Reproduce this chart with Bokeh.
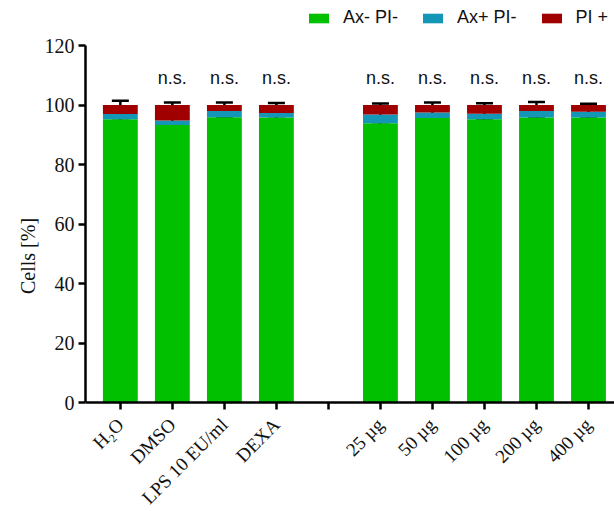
import math
from bokeh.plotting import figure
from bokeh.models import (ColumnDataSource, Whisker, TeeHead, Legend, LegendItem,
                          FixedTicker, Range1d)
from bokeh.core.properties import value
from bokeh.embed import file_html
from bokeh.resources import INLINE

# ---- data ----
categories = ["H₂O", "DMSO", "LPS 10 EU/ml", "DEXA",
              "25 µg", "50 µg", "100 µg", "200 µg", "400 µg"]
positions = [0, 1, 2, 3, 5, 6, 7, 8, 9]
ax_neg_pi_neg = [95.2, 93.3, 95.9, 95.8, 93.9, 95.6, 95.2, 95.8, 95.8]
ax_pos_pi_neg = [1.8, 1.5, 2.1, 1.5, 2.9, 1.9, 1.9, 2.2, 1.9]
pi_pos = [3.0, 5.2, 2.0, 2.7, 3.2, 2.5, 2.9, 2.0, 2.3]
sd_ax_neg = [0.5, 0.5, 0.4, 0.5, 0.5, 0.4, 0.4, 0.4, 0.4]
sd_ax_pos = [0.7, 1.0, 1.0, 0.8, 1.5, 1.5, 0.8, 1.3, 0.9]
sd_pi_pos = [1.4, 0.8, 0.8, 0.7, 0.5, 0.8, 0.6, 1.0, 0.4]
significance = ["", "n.s.", "n.s.", "n.s.", "n.s.", "n.s.", "n.s.", "n.s.", "n.s."]
series_names = ["Ax- PI-", "Ax+ PI-", "PI +"]
colors = ["#00C000", "#1497B6", "#A00000"]
yticks = [0, 20, 40, 60, 80, 100, 120]
y_axis_max = 120

g_top = list(ax_neg_pi_neg)
t_top = [a + b for a, b in zip(ax_neg_pi_neg, ax_pos_pi_neg)]
r_top = [a + b + c for a, b, c in zip(ax_neg_pi_neg, ax_pos_pi_neg, pi_pos)]

src = ColumnDataSource(dict(
    x=positions, g=ax_neg_pi_neg, t=ax_pos_pi_neg, r=pi_pos,
    g_top=g_top, t_top=t_top, r_top=r_top,
    g_lo=[v - s for v, s in zip(g_top, sd_ax_neg)], g_hi=[v + s for v, s in zip(g_top, sd_ax_neg)],
    t_lo=[v - s for v, s in zip(t_top, sd_ax_pos)], t_hi=[v + s for v, s in zip(t_top, sd_ax_pos)],
    r_hi=[v + s for v, s in zip(r_top, sd_pi_pos)],
    sig=significance, sig_y=[109] * len(positions),
))

SERIF = "Liberation Serif"
SANS = "Liberation Sans"

# The frame covers the whole canvas height; the x axis sits at y=0 (fixed_location)
# and the y axis line is bounded to 0..120.
H = 511
AXIS_TOP_PX = 45
AXIS_ZERO_PX = 402
px_per_unit = (AXIS_ZERO_PX - AXIS_TOP_PX) / y_axis_max
y_start = -(H - AXIS_ZERO_PX) / px_per_unit
y_end = y_axis_max + AXIS_TOP_PX / px_per_unit

p = figure(width=614, height=H, output_backend="svg", toolbar_location=None,
           x_range=Range1d(-0.67, 9.5), y_range=Range1d(y_start, y_end),
           min_border_left=85, min_border_right=0, min_border_bottom=0,
           min_border_top=0)
p.outline_line_color = None
p.grid.visible = False
p.background_fill_color = "white"
p.border_fill_color = "white"

renderers = p.vbar_stack(["g", "t", "r"], x="x", width=0.67, source=src,
                         color=colors, line_color=None)

for lo, hi, top in [("g_lo", "g_hi", None), ("t_lo", "t_hi", None), ("r_top", "r_hi", "r")]:
    w = Whisker(base="x", lower=lo, upper=hi, source=src,
                line_color="black", line_width=2.5,
                upper_head=TeeHead(size=17, line_width=2.5, line_color="black"),
                lower_head=(None if top else TeeHead(size=17, line_width=2.5, line_color="black")))
    p.add_layout(w)

p.text(x="x", y="sig_y", text="sig", source=src, text_font=value(SANS),
       text_font_size="18px", text_align="center", text_baseline="middle", text_color="#111111")

# axes
labels = {pos: lab for pos, lab in zip(positions, categories)}
labels[4] = ""
p.xaxis.fixed_location = 0
p.xaxis.ticker = FixedTicker(ticks=list(range(10)))
p.xaxis.major_label_overrides = labels
p.xaxis.major_label_orientation = math.pi / 4
p.xaxis.minor_tick_line_color = None
p.yaxis.ticker = FixedTicker(ticks=yticks)
p.yaxis.minor_tick_line_color = None
p.yaxis.bounds = (0, y_axis_max)
for ax in (p.xaxis, p.yaxis):
    ax.axis_line_width = 2.5
    ax.major_tick_line_width = 2.5
    ax.major_tick_out = 7
    ax.major_tick_in = 0
    ax.major_label_text_font = SERIF
    ax.major_label_text_font_size = "20px"
    ax.major_label_text_color = "#111111"
    ax.axis_line_color = "black"
    ax.major_tick_line_color = "black"
p.xaxis.major_label_text_font_size = "19px"
p.xaxis.major_label_standoff = 12
p.yaxis.major_label_standoff = 4
p.yaxis.axis_label = "Cells [%]"
p.yaxis.axis_label_text_font = SERIF
p.yaxis.axis_label_text_font_size = "20px"
p.yaxis.axis_label_text_font_style = "normal"
p.yaxis.axis_label_text_color = "#111111"
p.yaxis.axis_label_standoff = 3

legend = Legend(items=[LegendItem(label=n, renderers=[r]) for n, r in zip(series_names, renderers)],
                orientation="horizontal", location=(221, H - 28),
                label_text_font=SANS, label_text_font_size="18px", label_text_color="#111111",
                glyph_width=25, glyph_height=12, label_standoff=12, spacing=22,
                padding=0, margin=0, border_line_color=None, background_fill_alpha=0)
p.add_layout(legend)

open("out.html", "w").write(file_html(p, INLINE))
